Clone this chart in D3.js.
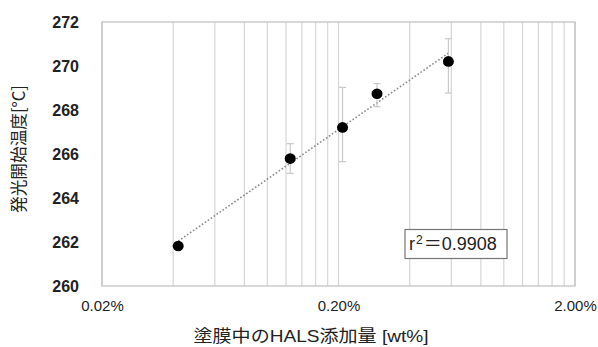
<!DOCTYPE html>
<html>
<head>
<meta charset="utf-8">
<script src="https://cdn.jsdelivr.net/npm/d3@7"></script>
<style>
  html, body { margin: 0; padding: 0; background: #fff; }
  svg { display: block; }
</style>
</head>
<body>
<svg id="chart" width="598" height="347"></svg>
<script>
// HALS concentration in the coating (wt%) and emission onset temperature (°C)
const concentrations = [0.042, 0.125, 0.208, 0.291, 0.583];
const onsetTemps     = [261.82, 265.79, 267.21, 268.74, 270.21];
const errorHigh      = [261.82, 266.47, 269.03, 269.20, 271.24];
const errorLow       = [261.82, 265.12, 265.65, 268.15, 268.77];
const xTickValues    = [0.02, 0.2, 2];
const xTickLabels    = ["0.02%", "0.20%", "2.00%"];
const yTickValues    = [260, 262, 264, 266, 268, 270, 272];
const r2Label        = "0.9908";

const svg = d3.select("#chart");
const m = { left: 102, right: 575, top: 22, bottom: 286 };

const x = d3.scaleLog().domain([0.02, 2]).range([m.left, m.right]);
const y = d3.scaleLinear().domain([260, 272]).range([m.bottom, m.top]);

const latin = "'Liberation Sans', Arial, sans-serif";
const cjk = "'Liberation Sans', 'Noto Sans CJK JP', sans-serif";

// vertical log gridlines (every 1..9 step in each decade)
const grid = [];
[0.02, 0.2].forEach(d => { for (let k = 1; k <= 9; k++) grid.push(d * k); });
grid.push(2);
svg.append("g")
  .selectAll("line")
  .data(grid)
  .join("line")
  .attr("x1", d => x(d)).attr("x2", d => x(d))
  .attr("y1", m.top).attr("y2", m.bottom)
  .attr("stroke", "#d6d6d6")
  .attr("stroke-width", 1.2);

// plot frame
svg.append("rect")
  .attr("x", m.left).attr("y", m.top)
  .attr("width", m.right - m.left).attr("height", m.bottom - m.top)
  .attr("fill", "none")
  .attr("stroke", "#c4c4c4")
  .attr("stroke-width", 1.3);

// y axis tick labels
const yAxis = d3.axisLeft(y).tickValues(yTickValues).tickSize(0).tickPadding(23).tickFormat(d3.format("d"));
const gy = svg.append("g").attr("transform", `translate(${m.left},0)`).call(yAxis);
gy.select(".domain").remove();
gy.selectAll("text")
  .attr("font-family", latin)
  .attr("font-size", 16)
  .attr("font-weight", "bold")
  .attr("fill", "#222");

// x axis tick labels
const xAxis = d3.axisBottom(x).tickValues(xTickValues).tickSize(0).tickPadding(14)
  .tickFormat((d, i) => xTickLabels[i]);
const gx = svg.append("g").attr("transform", `translate(0,${m.bottom})`).call(xAxis);
gx.select(".domain").remove();
gx.selectAll("text")
  .attr("font-family", latin)
  .attr("font-size", 15)
  .attr("fill", "#222");

// logarithmic trendline fitted to the points
const L = concentrations.map(Math.log10);
const mL = d3.mean(L), mY = d3.mean(onsetTemps);
const slope = d3.sum(L.map((l, i) => (l - mL) * (onsetTemps[i] - mY))) / d3.sum(L.map(l => (l - mL) ** 2));
const intercept = mY - slope * mL;
const xs = d3.range(0, 41).map(i => {
  const a = Math.log10(d3.min(concentrations)), b = Math.log10(d3.max(concentrations));
  return Math.pow(10, a + (b - a) * i / 40);
});
svg.append("path")
  .datum(xs)
  .attr("d", d3.line().x(d => x(d)).y(d => y(intercept + slope * Math.log10(d))))
  .attr("fill", "none")
  .attr("stroke", "#8a8a8a")
  .attr("stroke-width", 1.6)
  .attr("stroke-dasharray", "1.6,2");

// error bars
const eb = svg.append("g").attr("stroke", "#c8c8c8").attr("stroke-width", 1.2);
concentrations.forEach((c, i) => {
  if (errorHigh[i] === errorLow[i]) return;
  const cx = x(c);
  eb.append("line").attr("x1", cx).attr("x2", cx).attr("y1", y(errorHigh[i])).attr("y2", y(errorLow[i]));
  eb.append("line").attr("x1", cx - 3.5).attr("x2", cx + 3.5).attr("y1", y(errorHigh[i])).attr("y2", y(errorHigh[i]));
  eb.append("line").attr("x1", cx - 3.5).attr("x2", cx + 3.5).attr("y1", y(errorLow[i])).attr("y2", y(errorLow[i]));
});

// data points
svg.append("g")
  .selectAll("ellipse")
  .data(concentrations)
  .join("ellipse")
  .attr("cx", d => x(d))
  .attr("cy", (d, i) => y(onsetTemps[i]))
  .attr("rx", 5.5).attr("ry", 5.3)
  .attr("fill", "#000");

// r² annotation box
const box = svg.append("g").attr("transform", "translate(405,229.5)");
box.append("rect")
  .attr("width", 102).attr("height", 29)
  .attr("fill", "#fff")
  .attr("stroke", "#777")
  .attr("stroke-width", 1.2);
const rt = box.append("text")
  .attr("x", 4).attr("y", 20.5)
  .attr("font-family", latin)
  .attr("font-size", 18)
  .attr("fill", "#222");
rt.append("tspan").text("r");
rt.append("tspan").attr("font-size", 12).attr("dy", -6).attr("dx", 1).text("2");
rt.append("tspan").attr("dy", 6).attr("dx", 1)
  .attr("font-family", "'Noto Sans CJK JP', sans-serif").attr("font-size", 18).text("＝");
rt.append("tspan").text(r2Label);

// axis titles
svg.append("text")
  .attr("x", 311).attr("y", 342)
  .attr("text-anchor", "middle")
  .attr("font-family", cjk)
  .attr("font-size", 17)
  .attr("textLength", 235)
  .attr("lengthAdjust", "spacingAndGlyphs")
  .attr("fill", "#222")
  .text("塗膜中のHALS添加量 [wt%]");

svg.append("text")
  .attr("transform", "translate(25,149) rotate(-90)")
  .attr("text-anchor", "middle")
  .attr("font-family", "'Noto Sans CJK JP', sans-serif")
  .attr("font-size", 17)
  .attr("textLength", 128)
  .attr("lengthAdjust", "spacingAndGlyphs")
  .attr("fill", "#222")
  .text("発光開始温度[°C]");
</script>
</body>
</html>
